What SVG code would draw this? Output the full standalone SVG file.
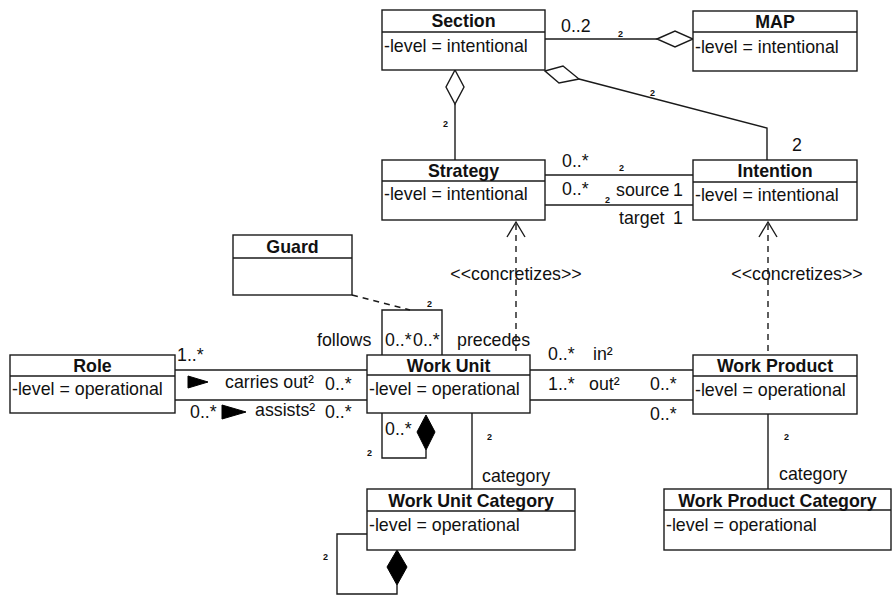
<svg xmlns="http://www.w3.org/2000/svg" width="894" height="595" viewBox="0 0 894 595">
<style>
.box{fill:#fff;stroke:#1a1a1a;stroke-width:1.4}
.ln{fill:none;stroke:#1a1a1a;stroke-width:1.4}
.dash{fill:none;stroke:#1a1a1a;stroke-width:1.4;stroke-dasharray:6,5}
.t{font-family:"Liberation Sans",Arial,sans-serif;font-size:17.8px;fill:#111}
.b{font-family:"Liberation Sans",Arial,sans-serif;font-size:17.8px;font-weight:bold;fill:#111;text-anchor:middle}
.s{font-family:"Liberation Sans",Arial,sans-serif;font-size:9px;font-weight:bold;fill:#111}
.hd{fill:#fff;stroke:#1a1a1a;stroke-width:1.4}
.fd{fill:#000;stroke:#000;stroke-width:1}
</style>
<rect width="894" height="595" fill="#fff"/>
<g id="connectors">
  <!-- Section - MAP -->
  <line class="ln" x1="545" y1="39" x2="657" y2="39"/>
  <polygon class="hd" points="657,39 675,31 693,39 675,47"/>
  <!-- Section - Intention -->
  <polyline class="ln" points="579,79 767,128 767,160"/>
  <polygon class="hd" points="545,71 563,66 579,79 559,83"/>
  <!-- Section - Strategy -->
  <line class="ln" x1="455" y1="104" x2="455" y2="160"/>
  <polygon class="hd" points="455,70 464,87 455,104 446,87"/>
  <!-- Strategy - Intention -->
  <line class="ln" x1="545" y1="175" x2="693" y2="175"/>
  <line class="ln" x1="545" y1="205" x2="693" y2="205"/>
  <!-- concretizes -->
  <line class="dash" x1="516" y1="224" x2="516" y2="355"/>
  <polyline class="ln" points="507,237 516,222 525,237"/>
  <line class="dash" x1="768" y1="224" x2="768" y2="355"/>
  <polyline class="ln" points="759,237 768,222 777,237"/>
  <!-- Guard -->
  <line class="dash" x1="352" y1="295" x2="410" y2="310"/>
  <polyline class="ln" points="382,355 382,310 442,310 442,355"/>
  <!-- Role - Work Unit -->
  <line class="ln" x1="175" y1="370" x2="367" y2="370"/>
  <line class="ln" x1="175" y1="400" x2="367" y2="400"/>
  <polygon class="fd" points="188,376 208,382 188,388"/>
  <polygon class="fd" points="222,405 246,412 222,419"/>
  <!-- Work Unit - Work Product -->
  <line class="ln" x1="530" y1="370" x2="693" y2="370"/>
  <line class="ln" x1="530" y1="400" x2="693" y2="400"/>
  <!-- Work Unit self composition -->
  <polyline class="ln" points="382,413 382,458 426,458 426,450"/>
  <polygon class="fd" points="426,415 435,432 426,450 417,432"/>
  <!-- Work Unit - Work Unit Category -->
  <line class="ln" x1="472" y1="413" x2="472" y2="489"/>
  <!-- Work Product - Work Product Category -->
  <line class="ln" x1="768" y1="414" x2="768" y2="489"/>
  <!-- WUC self composition -->
  <polyline class="ln" points="367,534 337,534 337,594 397,594 397,585"/>
  <polygon class="fd" points="397,550 407,567 397,585 387,567"/>
</g>
<g id="labels">
  <text class="t" x="561" y="32">0..2</text>
  <text class="s" x="618" y="37">2</text>
  <text class="s" x="650" y="96">2</text>
  <text class="s" x="443" y="127">2</text>
  <text class="t" x="792" y="151">2</text>
  <text class="t" x="562" y="167">0..*</text>
  <text class="s" x="619" y="171">2</text>
  <text class="t" x="562" y="195">0..*</text>
  <text class="s" x="605" y="203">2</text>
  <text class="t" x="616" y="196">source</text>
  <text class="t" x="673" y="196">1</text>
  <text class="t" x="619" y="224">target</text>
  <text class="t" x="673" y="224">1</text>
  <text class="t" x="516" y="280" text-anchor="middle">&lt;&lt;concretizes&gt;&gt;</text>
  <text class="t" x="797" y="280" text-anchor="middle">&lt;&lt;concretizes&gt;&gt;</text>
  <text class="s" x="427" y="307">2</text>
  <text class="t" x="317" y="346">follows</text>
  <text class="t" x="385" y="346">0..*</text>
  <text class="t" x="413" y="346">0..*</text>
  <text class="t" x="457" y="346">precedes</text>
  <text class="t" x="177" y="361">1..*</text>
  <text class="t" x="225" y="388">carries out²</text>
  <text class="t" x="325" y="390">0..*</text>
  <text class="t" x="190" y="418">0..*</text>
  <text class="t" x="255" y="416">assists²</text>
  <text class="t" x="325" y="418">0..*</text>
  <text class="t" x="548" y="360">0..*</text>
  <text class="t" x="593" y="360">in²</text>
  <text class="t" x="548" y="390">1..*</text>
  <text class="t" x="589" y="390">out²</text>
  <text class="t" x="650" y="390">0..*</text>
  <text class="t" x="650" y="420">0..*</text>
  <text class="t" x="385" y="435">0..*</text>
  <text class="s" x="367" y="456">2</text>
  <text class="s" x="487" y="440">2</text>
  <text class="s" x="784" y="440">2</text>
  <text class="t" x="482" y="482">category</text>
  <text class="t" x="779" y="480">category</text>
  <text class="s" x="323" y="560">2</text>
</g>
<g id="section">
  <rect class="box" x="382" y="10" width="163" height="60"/>
  <line class="ln" x1="382" y1="32" x2="545" y2="32"/>
  <text class="b" x="463.5" y="27">Section</text>
  <text class="t" x="384" y="52">-level = intentional</text>
</g>
<g id="map">
  <rect class="box" x="693" y="11" width="164" height="60"/>
  <line class="ln" x1="693" y1="32" x2="857" y2="32"/>
  <text class="b" x="775" y="28">MAP</text>
  <text class="t" x="695" y="53">-level = intentional</text>
</g>
<g id="strategy">
  <rect class="box" x="382" y="160" width="163" height="60"/>
  <line class="ln" x1="382" y1="181" x2="545" y2="181"/>
  <text class="b" x="463.5" y="177">Strategy</text>
  <text class="t" x="384" y="200">-level = intentional</text>
</g>
<g id="intention">
  <rect class="box" x="693" y="160" width="164" height="60"/>
  <line class="ln" x1="693" y1="182" x2="857" y2="182"/>
  <text class="b" x="775" y="177">Intention</text>
  <text class="t" x="695" y="201">-level = intentional</text>
</g>
<g id="guard">
  <rect class="box" x="233" y="235" width="119" height="60"/>
  <line class="ln" x1="233" y1="258" x2="352" y2="258"/>
  <text class="b" x="292.5" y="253">Guard</text>
</g>
<g id="role">
  <rect class="box" x="10" y="355" width="165" height="58"/>
  <line class="ln" x1="10" y1="376" x2="175" y2="376"/>
  <text class="b" x="92.5" y="372">Role</text>
  <text class="t" x="12" y="395">-level = operational</text>
</g>
<g id="work-unit">
  <rect class="box" x="367" y="355" width="163" height="58"/>
  <line class="ln" x1="367" y1="375" x2="530" y2="375"/>
  <text class="b" x="448.5" y="372">Work Unit</text>
  <text class="t" x="369" y="395">-level = operational</text>
</g>
<g id="work-product">
  <rect class="box" x="693" y="355" width="164" height="59"/>
  <line class="ln" x1="693" y1="376" x2="857" y2="376"/>
  <text class="b" x="775" y="372">Work Product</text>
  <text class="t" x="695" y="396">-level = operational</text>
</g>
<g id="work-unit-category">
  <rect class="box" x="367" y="489" width="208" height="61"/>
  <line class="ln" x1="367" y1="511" x2="575" y2="511"/>
  <text class="b" x="471" y="507">Work Unit Category</text>
  <text class="t" x="369" y="531">-level = operational</text>
</g>
<g id="work-product-category">
  <rect class="box" x="664" y="489" width="227" height="61"/>
  <line class="ln" x1="664" y1="510" x2="891" y2="510"/>
  <text class="b" x="777.5" y="507">Work Product Category</text>
  <text class="t" x="666" y="531">-level = operational</text>
</g>
</svg>
